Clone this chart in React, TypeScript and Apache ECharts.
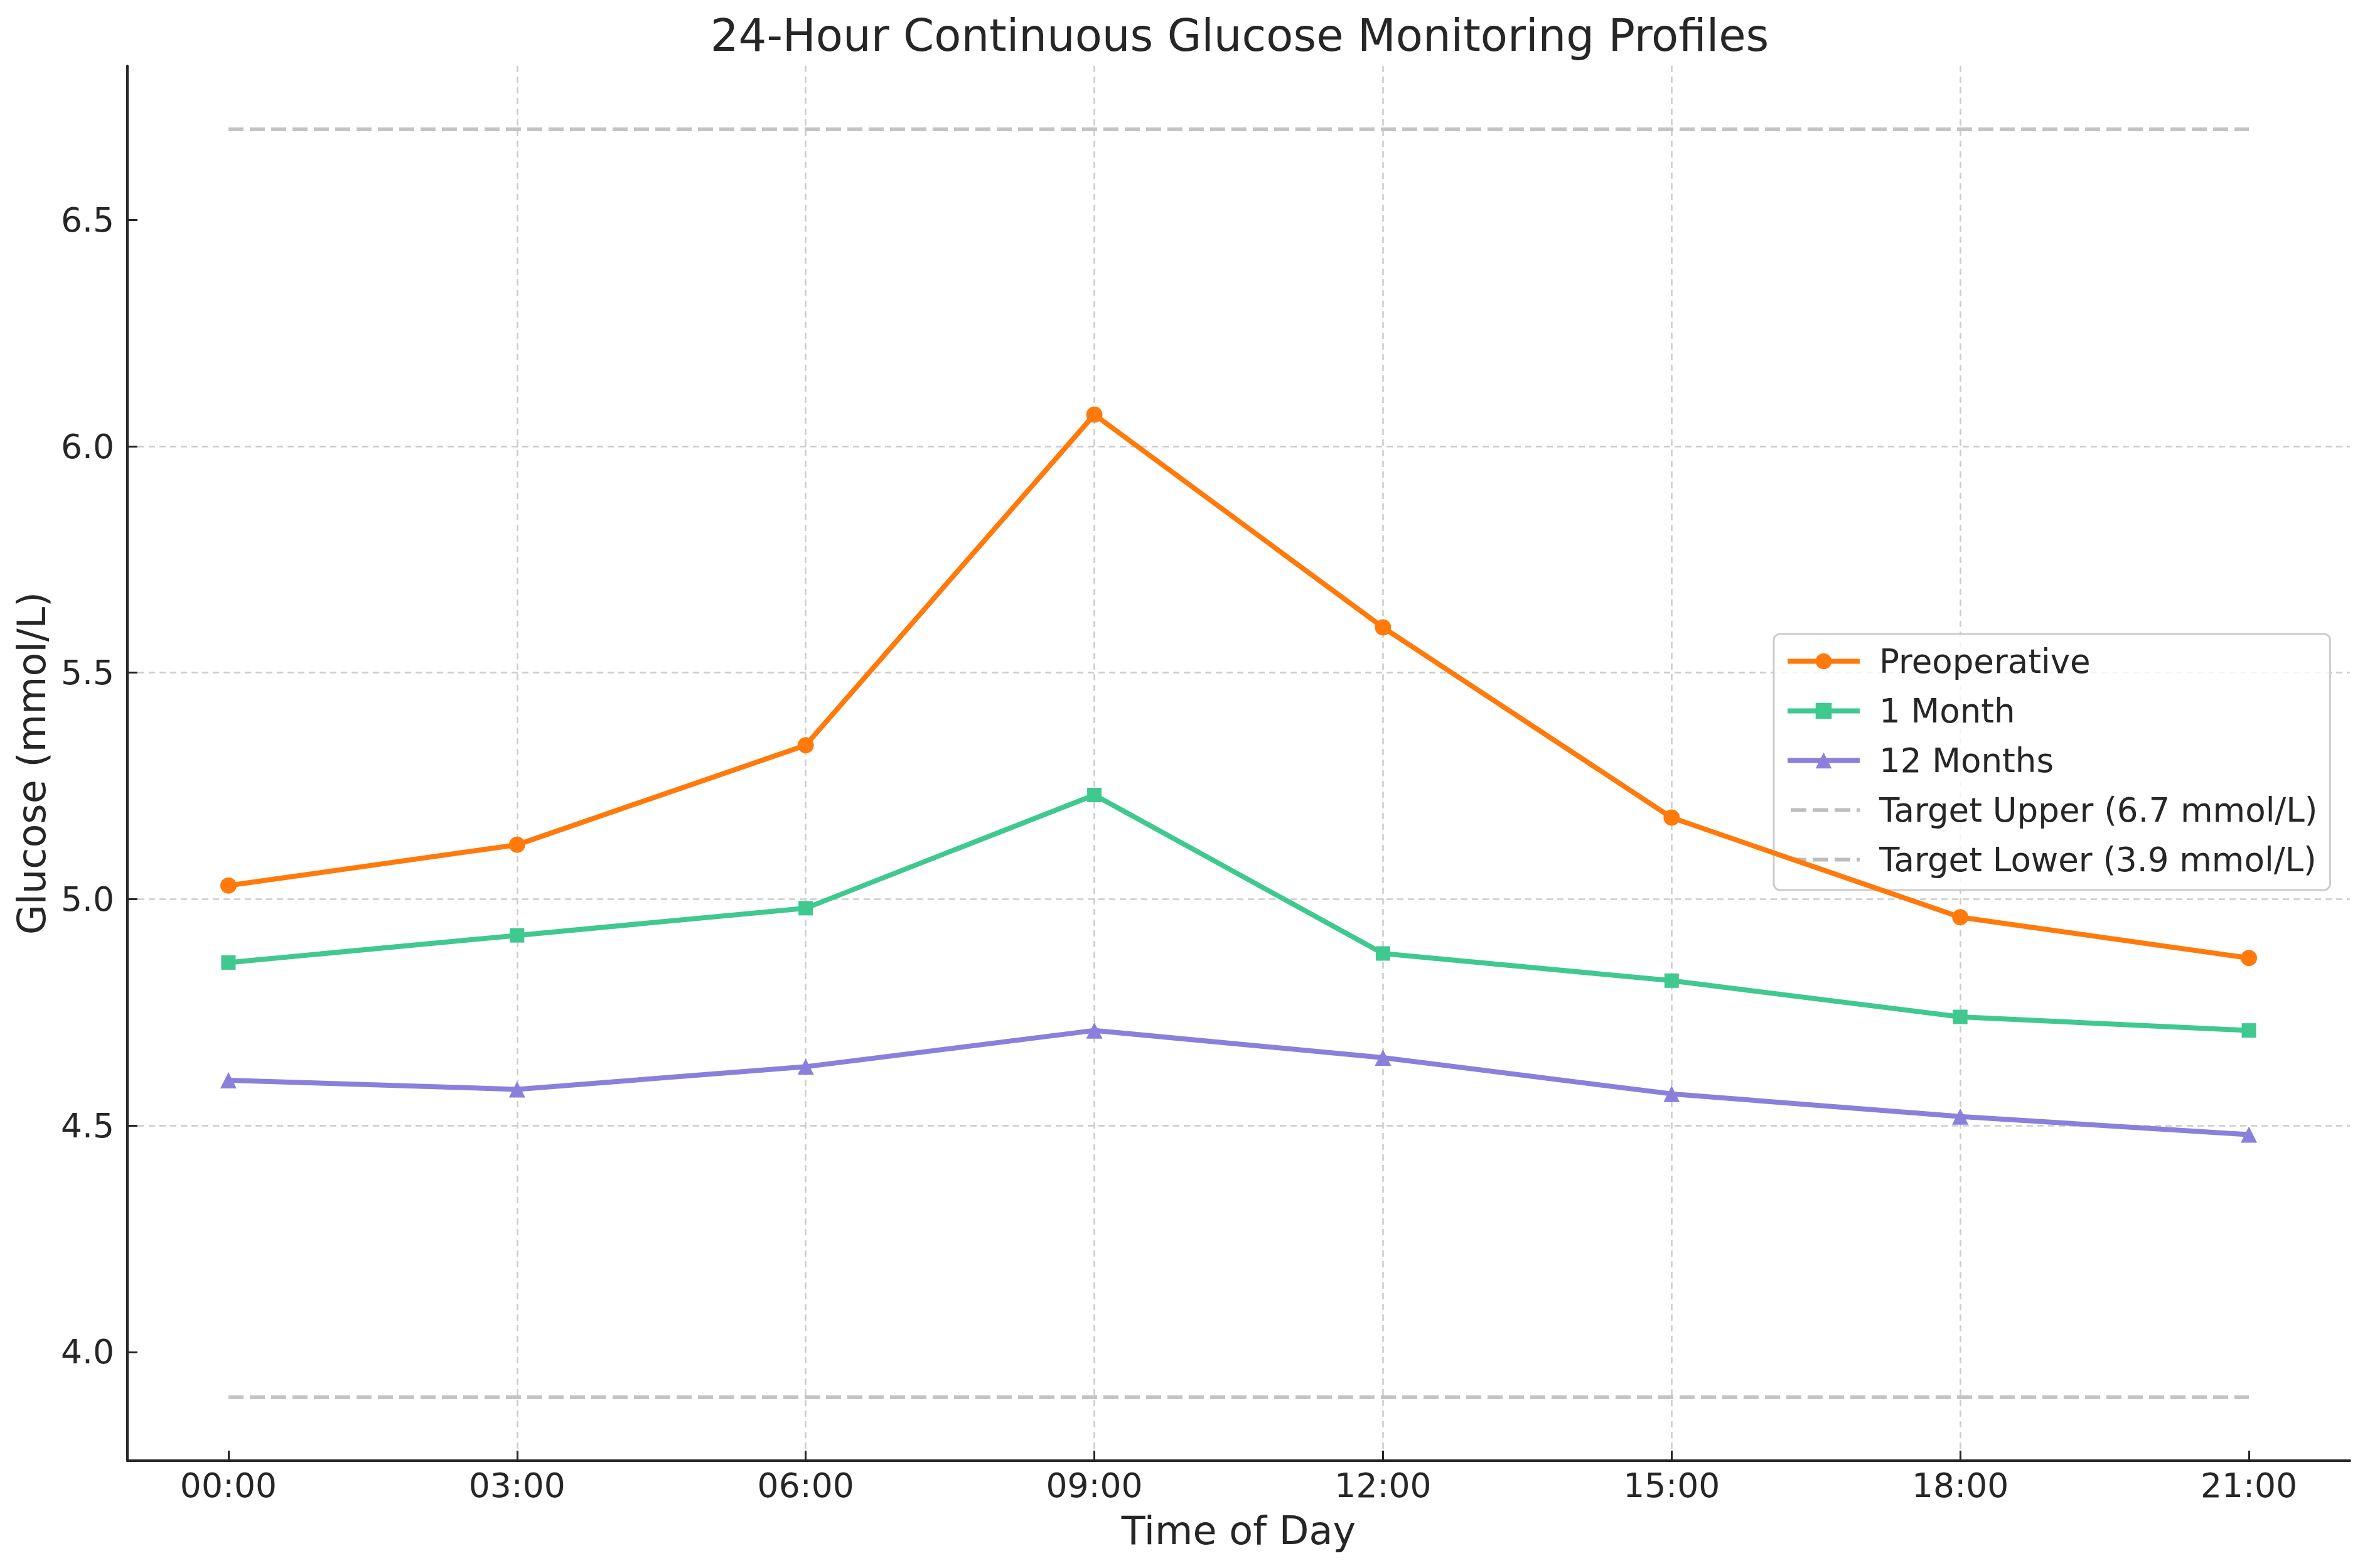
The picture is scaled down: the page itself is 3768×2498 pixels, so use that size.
import React, { useEffect, useRef } from "react";
import * as echarts from "echarts";

const timeLabels = ["00:00", "03:00", "06:00", "09:00", "12:00", "15:00", "18:00", "21:00"];
const preoperative = [5.03, 5.12, 5.34, 6.07, 5.6, 5.18, 4.96, 4.87];
const oneMonth = [4.86, 4.92, 4.98, 5.23, 4.88, 4.82, 4.74, 4.71];
const twelveMonths = [4.6, 4.58, 4.63, 4.71, 4.65, 4.57, 4.52, 4.48];
const targetUpper = 6.7;
const targetLower = 3.9;
const yTicks = [4.0, 4.5, 5.0, 5.5, 6.0, 6.5];

const FONT = "DejaVu Sans";
const TEXT = "#262626";
const ORANGE = "#FF7A0A";
const GREEN = "#3FC98F";
const PURPLE = "#8A80DC";
const TGRAY = "#c4c4c4";
const LW = 8;

export default function App() {
  const ref = useRef<HTMLDivElement>(null);
  useEffect(() => {
    document.body.style.margin = "0";
    document.body.style.background = "#ffffff";
    if (!ref.current) return;
    const chart = echarts.init(ref.current, null, { renderer: "svg" });
    const idx = timeLabels.map((_, i) => i);
    const toPts = (arr: number[]) => arr.map((v, i) => [i, v]);
    const lastIdx = timeLabels.length - 1;
    const xPad = lastIdx * 0.05;
    const yPad = (targetUpper - targetLower) * 0.05;

    const targetStyle = { color: TGRAY, width: 6, type: [24, 10] as number[] };
    const legendTarget = { color: "#bdbdbd", width: 6, type: [25, 10], dashOffset: 30 };

    chart.setOption({
      animation: false,
      backgroundColor: "#ffffff",
      textStyle: { fontFamily: FONT, color: TEXT },
      title: {
        text: "24-Hour Continuous Glucose Monitoring Profiles",
        left: 1970,
        top: 16,
        textAlign: "center",
        textStyle: { fontFamily: FONT, fontSize: 70.5, fontWeight: "normal", color: TEXT },
      },
      grid: { left: 203, right: 24, top: 105, bottom: 171, containLabel: false },
      legend: {
        orient: "vertical",
        left: 2826,
        top: 1010,
        padding: [17, 20, 22, 18],
        itemWidth: 115,
        itemHeight: 32,
        itemGap: 26,
        backgroundColor: "rgba(255,255,255,0.8)",
        borderColor: "#cccccc",
        borderWidth: 3,
        borderRadius: 10,
        textStyle: { fontFamily: FONT, fontSize: 53, color: TEXT, padding: [0, 0, 0, 26] },
        data: [
          { name: "Preoperative", lineStyle: { color: ORANGE, width: LW } },
          { name: "1 Month", lineStyle: { color: GREEN, width: LW } },
          { name: "12 Months", lineStyle: { color: PURPLE, width: LW } },
          { name: "Target Upper (6.7 mmol/L)", itemStyle: { opacity: 0 }, lineStyle: legendTarget },
          { name: "Target Lower (3.9 mmol/L)", itemStyle: { opacity: 0 }, lineStyle: legendTarget },
        ],
      },
      xAxis: {
        type: "value",
        min: -xPad,
        max: lastIdx + xPad,
        name: "Time of Day",
        nameLocation: "middle",
        nameGap: 80,
        nameTextStyle: { fontFamily: FONT, fontSize: 62, color: TEXT },
        axisLine: { show: true, onZero: false, lineStyle: { color: TEXT, width: 4 } },
        axisTick: {
          show: true,
          inside: true,
          length: 16,
          customValues: idx,
          lineStyle: { color: TEXT, width: 3 },
        },
        axisLabel: {
          show: true,
          customValues: idx,
          margin: 12,
          fontFamily: FONT,
          fontSize: 53.5,
          color: TEXT,
          formatter: (v: number) => timeLabels[Math.round(v)] ?? "",
        },
        splitLine: {
          show: true,
          showMinLine: false,
          showMaxLine: false,
          lineStyle: { color: "#cccccc", width: 2.5, type: [10, 7] },
        },
      },
      yAxis: {
        type: "value",
        min: targetLower - yPad,
        max: targetUpper + yPad,
        name: "Glucose (mmol/L)",
        nameLocation: "middle",
        nameGap: 122,
        nameTextStyle: { fontFamily: FONT, fontSize: 62, color: TEXT },
        axisLine: { show: true, onZero: false, lineStyle: { color: TEXT, width: 4 } },
        axisTick: {
          show: true,
          inside: true,
          length: 16,
          customValues: yTicks,
          lineStyle: { color: TEXT, width: 3 },
        },
        axisLabel: {
          show: true,
          customValues: yTicks,
          margin: 21,
          fontFamily: FONT,
          fontSize: 53.5,
          color: TEXT,
          formatter: (v: number) => v.toFixed(1),
        },
        splitLine: {
          show: true,
          showMinLine: false,
          showMaxLine: false,
          lineStyle: { color: "#cccccc", width: 2.5, type: [10, 7] },
        },
      },
      series: [
        {
          name: "Preoperative",
          type: "line",
          data: toPts(preoperative),
          symbol: "circle",
          symbolSize: 26,
          lineStyle: { color: ORANGE, width: LW },
          itemStyle: { color: ORANGE },
          z: 5,
        },
        {
          name: "1 Month",
          type: "line",
          data: toPts(oneMonth),
          symbol: "rect",
          symbolSize: 23,
          lineStyle: { color: GREEN, width: LW },
          itemStyle: { color: GREEN },
          z: 4,
        },
        {
          name: "12 Months",
          type: "line",
          data: toPts(twelveMonths),
          symbol: "triangle",
          symbolSize: 26,
          lineStyle: { color: PURPLE, width: LW },
          itemStyle: { color: PURPLE },
          z: 3,
        },
        {
          name: "Target Upper (6.7 mmol/L)",
          type: "line",
          data: [[0, targetUpper], [lastIdx, targetUpper]],
          symbol: "none",
          lineStyle: targetStyle,
          itemStyle: { color: TGRAY },
          z: 2,
        },
        {
          name: "Target Lower (3.9 mmol/L)",
          type: "line",
          data: [[0, targetLower], [lastIdx, targetLower]],
          symbol: "none",
          lineStyle: targetStyle,
          itemStyle: { color: TGRAY },
          z: 2,
        },
      ],
    });
    return () => chart.dispose();
  }, []);
  return <div ref={ref} style={{ width: 3768, height: 2498 }} />;
}
